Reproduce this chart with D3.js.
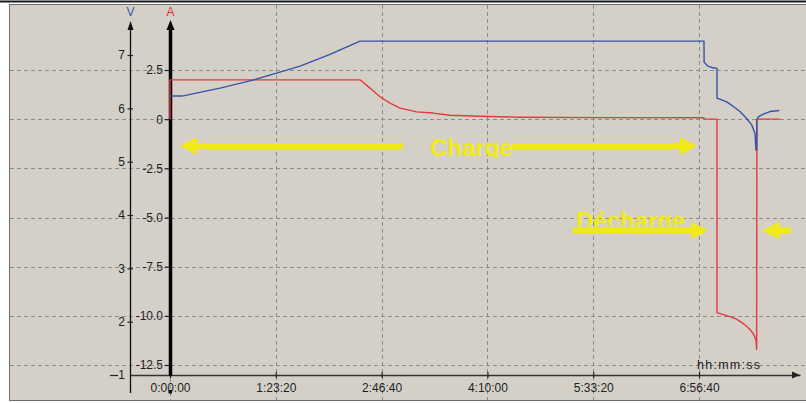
<!DOCTYPE html>
<html>
<head>
<meta charset="utf-8">
<script src="https://cdn.jsdelivr.net/npm/d3@7"></script>
<style>
  html, body { margin: 0; padding: 0; background: #ffffff; }
  svg { display: block; font-family: "Liberation Sans", Arial, sans-serif; }
</style>
</head>
<body>
<svg id="chart" width="806" height="403"></svg>
<script>
// Time axis (seconds) and its hh:mm:ss labels
const timeTicks = [0, 5000, 10000, 15000, 20000, 25000];
const timeLabels = ["0:00:00", "1:23:20", "2:46:40", "4:10:00", "5:33:20", "6:56:40"];

// Voltage axis (V)
const voltTicks = [7, 6, 5, 4, 3, 2, 1];

// Current axis (A)
const ampTicks = [2.5, 0, -2.5, -5, -7.5, -10, -12.5];
const ampLabels = ["2.5", "0", "-2.5", "-5.0", "-7.5", "-10.0", "-12.5"];

// Battery voltage over time
const voltTime = [0, 567, 2363, 3922, 5198, 6143, 7560, 8978, 25232, 25240, 25279, 25421, 25657, 25846, 25850,
  26304, 26602, 26933, 27250, 27486, 27642, 27690, 27723, 27730, 27798, 28034, 28350, 28790];
const voltValue = [6.23, 6.23, 6.38, 6.53, 6.68, 6.79, 7.01, 7.26, 7.26, 6.86, 6.85, 6.79, 6.76, 6.75, 6.19,
  6.12, 6.04, 5.94, 5.81, 5.69, 5.53, 5.22, 5.22, 5.78, 5.84, 5.89, 5.94, 5.96];

// Charge / discharge current over time
const ampTime = [0, 0, 8978, 9450, 9922, 10395, 10868, 11656, 12427, 13230, 14648, 16538, 20318, 25232, 25240,
  25846, 25846, 26460, 26791, 27074, 27311, 27486, 27594, 27688, 27721, 27735, 28820];
const ampValue = [0, 2.0, 2.0, 1.58, 1.14, 0.82, 0.56, 0.37, 0.31, 0.20, 0.15, 0.10, 0.08, 0.07, 0,
  0, -9.84, -10.04, -10.18, -10.38, -10.59, -10.80, -10.97, -11.23, -11.70, 0, 0];

// Annotations (time in seconds, level in A)
const arrows = [
  { from: 11010, to: 473, level: -1.36, head: 17, half: 9 },
  { from: 16160, to: 24900, level: -1.36, head: 17, half: 9 },
  { from: 19028, to: 25435, level: -5.66, head: 17, half: 8.5 },
  { from: 29328, to: 27958, level: -5.66, head: 18, half: 8.5 }
];
const notes = [
  { text: "Charge", t: 12285, level: -1.88, clipLevel: -1.98 },
  { text: "Décharge", t: 19184, level: -5.56, clipLevel: -5.45 }
];

const svg = d3.select("#chart");
const W = 806, H = 403;

const x = d3.scaleLinear().domain([-1890, 29770]).range([130, 800]);
const yV = d3.scaleLinear().domain([1, 7]).range([375, 55]);
const yA = d3.scaleLinear().domain([-12.5, 2.5]).range([365, 70]);

const gridColor = "#8c8c8c";
const yellow = "#f2ea17";
const font = "Liberation Sans, Arial, sans-serif";

// frame
svg.append("rect").attr("width", W).attr("height", H).attr("fill", "#ffffff");
svg.append("line").attr("x1", 0).attr("x2", W).attr("y1", 1.5).attr("y2", 1.5)
  .attr("stroke", "#1a1a1a").attr("stroke-width", 2);
svg.append("rect").attr("x", 9.5).attr("y", 4.5).attr("width", W).attr("height", 396)
  .attr("fill", "#d4d0c8").attr("stroke", "#6e6e6e").attr("stroke-width", 1);

// horizontal grid at current ticks
svg.append("g").selectAll("line").data(ampTicks).join("line")
  .attr("x1", 10).attr("x2", W)
  .attr("y1", d => Math.round(yA(d)) + 0.5).attr("y2", d => Math.round(yA(d)) + 0.5)
  .attr("stroke", gridColor).attr("stroke-dasharray", "4,3");

// vertical grid at time ticks
svg.append("g").selectAll("line").data(timeTicks).join("line")
  .attr("x1", d => Math.round(x(d)) + 0.5).attr("x2", d => Math.round(x(d)) + 0.5)
  .attr("y1", d => d === 0 ? 378 : 5).attr("y2", 400)
  .attr("stroke", gridColor).attr("stroke-dasharray", "4,3");

// time axis
const xAxis = d3.axisBottom(x).tickValues(timeTicks)
  .tickFormat((d, i) => timeLabels[i]).tickSizeInner(3).tickSizeOuter(0).tickPadding(5);
const gx = svg.append("g").attr("transform", "translate(0,375)").call(xAxis);
gx.select(".domain").attr("stroke", "#333").attr("stroke-width", 1.5);
gx.selectAll(".tick line").attr("stroke", "#222").attr("y1", -3).attr("stroke-width", 1.2);
gx.selectAll(".tick text").attr("font-size", 12).attr("fill", "#1e1e1e").attr("font-family", font);
svg.append("path").attr("d", "M800,375 L792,371.5 L792,378.5 Z").attr("fill", "#222");
svg.append("rect").attr("x", Math.round(x(0)) - 1.5).attr("y", 390).attr("width", 3.5).attr("height", 3.5).attr("fill", "#111");
svg.append("text").attr("x", 697).attr("y", 369).attr("font-size", 12.5)
  .attr("textLength", 63).attr("lengthAdjust", "spacing").attr("fill", "#1e1e1e").text("hh:mm:ss");

// voltage axis
const vAxis = d3.axisLeft(yV).tickValues(voltTicks).tickFormat(d3.format("d"))
  .tickSizeInner(0).tickSizeOuter(0).tickPadding(5);
const gv = svg.append("g").attr("transform", "translate(130,0)").call(vAxis);
gv.select(".domain").remove();
gv.selectAll(".tick line").attr("x1", -2.5).attr("x2", 3).attr("stroke", "#222").attr("stroke-width", 1.2);
gv.selectAll(".tick text").attr("font-size", 12).attr("fill", "#1e1e1e").attr("font-family", font);
gv.selectAll(".tick").filter(d => d === 1).select("line").attr("x1", -20).attr("x2", -12);
svg.append("line").attr("x1", 130.5).attr("x2", 130.5).attr("y1", 27).attr("y2", 393)
  .attr("stroke", "#111").attr("stroke-width", 1.3);
svg.append("path").attr("d", "M130.5,21 L127.5,30 L133.5,30 Z").attr("fill", "#111");
svg.append("text").attr("x", 130.5).attr("y", 16).attr("text-anchor", "middle")
  .attr("font-size", 12).attr("fill", "#3a55b0").text("V");

// current axis
const aAxis = d3.axisLeft(yA).tickValues(ampTicks).tickFormat((d, i) => ampLabels[i])
  .tickSizeInner(4).tickSizeOuter(0).tickPadding(2);
const ga = svg.append("g").attr("transform", "translate(169,0)").call(aAxis);
ga.select(".domain").remove();
ga.selectAll(".tick line").attr("stroke", "#222").attr("stroke-width", 1.2);
ga.selectAll(".tick text").attr("font-size", 12).attr("fill", "#1e1e1e").attr("font-family", font);
svg.append("line").attr("x1", 170.5).attr("x2", 170.5).attr("y1", 27).attr("y2", 376)
  .attr("stroke", "#000").attr("stroke-width", 3.5);
svg.append("path").attr("d", "M170.5,20 L166.5,30 L174.5,30 Z").attr("fill", "#000");
svg.append("text").attr("x", 170.5).attr("y", 16).attr("text-anchor", "middle")
  .attr("font-size", 12).attr("fill", "#e03030").text("A");

// series
const vLine = d3.line().x((d, i) => x(voltTime[i])).y(d => yV(d));
const aLine = d3.line().x((d, i) => x(ampTime[i])).y(d => yA(d));

svg.append("path").attr("d", aLine(ampValue)).attr("fill", "none")
  .attr("stroke", "#e23a40").attr("stroke-width", 1.4).attr("stroke-linejoin", "round");
svg.append("path").attr("d", vLine(voltValue)).attr("fill", "none")
  .attr("stroke", "#3853a6").attr("stroke-width", 1.4).attr("stroke-linejoin", "round");

// annotations
const defs = svg.append("defs");
notes.forEach((n, i) => {
  defs.append("clipPath").attr("id", "noteclip" + i)
    .append("rect").attr("x", 0).attr("y", 0).attr("width", W).attr("height", yA(n.clipLevel));
  svg.append("text").attr("clip-path", `url(#noteclip${i})`)
    .attr("x", x(n.t)).attr("y", yA(n.level))
    .attr("font-size", 24).attr("font-weight", "bold").attr("fill", yellow).text(n.text);
});

arrows.forEach(a => {
  const x0 = x(a.from), x1 = x(a.to), yc = yA(a.level);
  const dir = x1 > x0 ? 1 : -1;
  const hb = x1 - dir * a.head;
  const s = 3;
  const pts = [[x0, yc - s], [hb, yc - s], [hb, yc - a.half], [x1, yc], [hb, yc + a.half], [hb, yc + s], [x0, yc + s]];
  svg.append("path").attr("d", "M" + pts.map(p => p.join(",")).join("L") + "Z").attr("fill", yellow);
});
</script>
</body>
</html>
